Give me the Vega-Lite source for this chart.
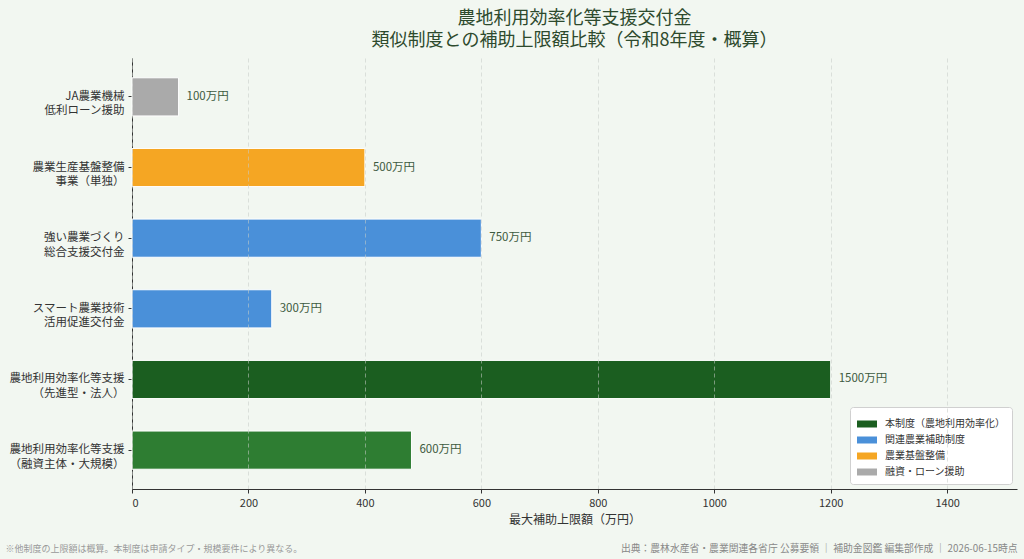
{
  "$schema": "https://vega.github.io/schema/vega-lite/v6.json",
  "width": 885,
  "height": 431,
  "autosize": {"type": "none"},
  "padding": {"left": 132, "top": 58, "right": 7, "bottom": 70},
  "background": "#f2f7f1",
  "config": {
    "font": "Noto Sans CJK JP",
    "view": {"stroke": null},
    "axis": {"labelFont": "Noto Sans CJK JP", "titleFont": "Noto Sans CJK JP"}
  },
  "title": {
    "text": ["農地利用効率化等支援交付金", "類似制度との補助上限額比較（令和8年度・概算）"],
    "anchor": "middle",
    "frame": "group",
    "fontSize": 18,
    "fontWeight": "normal",
    "lineHeight": 22,
    "color": "#2d4a2d",
    "offset": 8
  },
  "data": {
    "values": [
      {"program": "JA農業機械\n低利ローン援助", "value": 100, "category": "融資・ローン援助"},
      {"program": "農業生産基盤整備\n事業（単独）", "value": 500, "category": "農業基盤整備"},
      {"program": "強い農業づくり\n総合支援交付金", "value": 750, "category": "関連農業補助制度"},
      {"program": "スマート農業技術\n活用促進交付金", "value": 300, "category": "関連農業補助制度"},
      {"program": "農地利用効率化等支援\n（先進型・法人）", "value": 1500, "category": "本制度（農地利用効率化）"},
      {"program": "農地利用効率化等支援\n（融資主体・大規模）", "value": 600, "category": "本制度（融資主体型）"}
    ]
  },
  "encoding": {
    "y": {
      "field": "program",
      "type": "nominal",
      "sort": null,
      "scale": {"paddingInner": 0.46, "paddingOuter": 0.28},
      "axis": {
        "title": null,
        "labelExpr": "split(datum.label, '\\n')",
        "labelFontSize": 11.5,
        "labelLineHeight": 14.5,
        "labelColor": "#333333",
        "labelPadding": 4,
        "labelLimit": 200,
        "tickSize": 4,
        "tickColor": "#333333",
        "domainColor": "#333333",
        "grid": false
      }
    },
    "x": {
      "field": "value",
      "type": "quantitative",
      "scale": {"domain": [0, 1900], "nice": false, "zero": true},
      "axis": {
        "title": "最大補助上限額（万円）",
        "titleFontSize": 12,
        "titleFontWeight": "normal",
        "titleColor": "#333333",
        "titlePadding": 6,
        "values": [0, 250, 500, 750, 1000, 1250, 1500, 1750],
        "labelExpr": "format(datum.value * 0.8, 'd')",
        "labelFontSize": 11,
        "labelColor": "#333333",
        "labelPadding": 4,
        "tickSize": 4,
        "tickColor": "#333333",
        "domainColor": "#333333",
        "grid": true,
        "gridColor": "#c8ccc8",
        "gridDash": [4, 3],
        "gridWidth": 0.8,
        "gridOpacity": 0.7,
        "zindex": 1
      }
    }
  },
  "layer": [
    {
      "mark": {"type": "bar", "stroke": "#ffffff", "strokeWidth": 1},
      "encoding": {
        "color": {
          "field": "category",
          "type": "nominal",
          "scale": {
            "domain": ["本制度（農地利用効率化）", "関連農業補助制度", "農業基盤整備", "融資・ローン援助", "本制度（融資主体型）"],
            "range": ["#1b5e20", "#4a90d9", "#f5a623", "#aaaaaa", "#2e7d32"]
          },
          "legend": {
            "title": null,
            "values": ["本制度（農地利用効率化）", "関連農業補助制度", "農業基盤整備", "融資・ローン援助"],
            "orient": "bottom-right",
            "offset": 5,
            "padding": 7,
            "fillColor": "#ffffff",
            "strokeColor": "#d0d0d0",
            "cornerRadius": 3,
            "symbolType": "M-1,-0.35L1,-0.35L1,0.35L-1,0.35Z",
            "symbolSize": 400,
            "symbolStrokeWidth": 0,
            "labelFontSize": 10,
            "labelColor": "#333333",
            "labelOffset": 8,
            "rowPadding": 1
          }
        }
      }
    },
    {
      "transform": [{"calculate": "datum.value + '万円'", "as": "label"}],
      "mark": {
        "type": "text",
        "align": "left",
        "baseline": "middle",
        "dx": 8,
        "fontSize": 11.5,
        "color": "#3d5a40"
      },
      "encoding": {
        "text": {"field": "label", "type": "nominal"},
        "x": {
          "field": "value",
          "type": "quantitative",
          "axis": {
            "orient": "bottom",
            "domain": false,
            "ticks": false,
            "labels": false,
            "grid": false,
            "title": "※他制度の上限額は概算。本制度は申請タイプ・規模要件により異なる。",
            "titleFontSize": 9,
            "titleFontWeight": "normal",
            "titleColor": "#999999",
            "titleAnchor": null,
            "titleAlign": "left",
            "titleBaseline": "middle",
            "titleX": -127,
            "titleY": 59
          }
        },
        "y": {
          "field": "program",
          "type": "nominal",
          "sort": null,
          "axis": {
            "orient": "right",
            "domain": false,
            "ticks": false,
            "labels": false,
            "grid": false,
            "title": "出典：農林水産省・農業関連各省庁 公募要領 ｜ 補助金図鑑 編集部作成 ｜ 2026-06-15時点",
            "titleFontSize": 9.8,
            "titleFontWeight": "normal",
            "titleColor": "#888888",
            "titleAngle": 0,
            "titleAnchor": null,
            "titleAlign": "right",
            "titleBaseline": "middle",
            "titleX": 0,
            "titleY": 490
          }
        }
      }
    }
  ],
  "resolve": {"axis": {"x": "independent", "y": "independent"}}
}
